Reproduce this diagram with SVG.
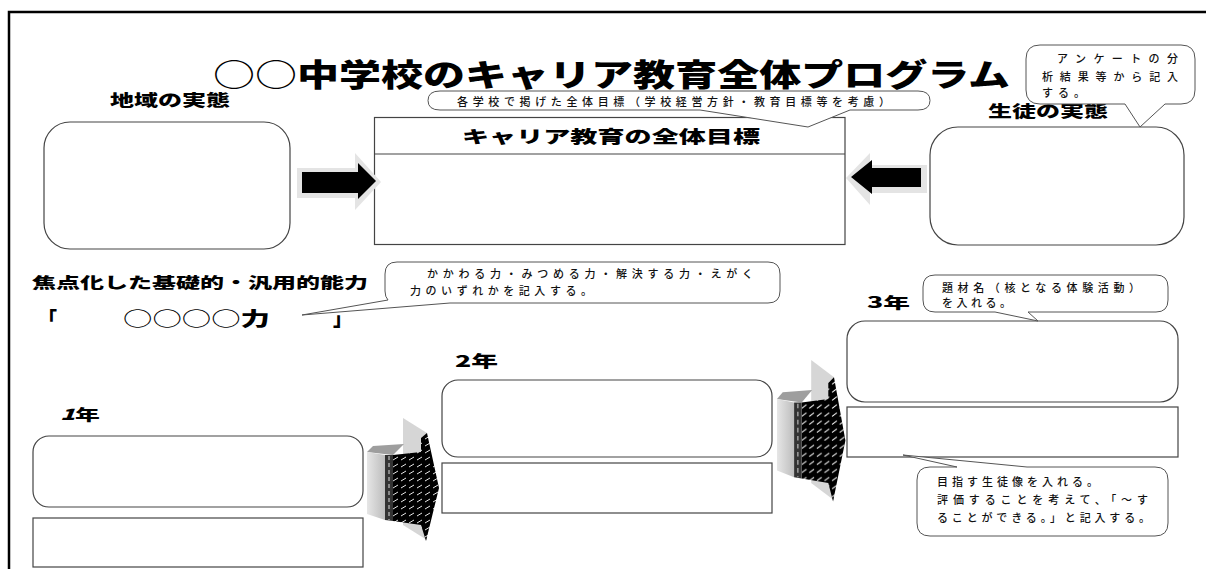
<svg xmlns="http://www.w3.org/2000/svg" width="1206" height="569" viewBox="0 0 1206 569">
<defs>
<style>
.h{font-family:"Noto Sans CJK JP","Noto Sans",sans-serif;font-weight:900;fill:#000}
.n{font-family:"Noto Sans CJK JP","Noto Sans",sans-serif;font-weight:500;fill:#111;font-size:11px}
.thin{font-weight:400}
.box{fill:#fff;stroke:#444;stroke-width:1.2}
.call{fill:#fff;stroke:#555;stroke-width:1}
</style>
<pattern id="dash" width="8" height="7" patternUnits="userSpaceOnUse">
<rect width="8" height="7" fill="#000"/>
<line x1="1" y1="5" x2="6" y2="2" stroke="#fff" stroke-width="0.9"/>
</pattern>
<linearGradient id="side" x1="0" y1="0" x2="1" y2="0">
<stop offset="0" stop-color="#e6e6e6"/><stop offset="1" stop-color="#bdbdbd"/>
</linearGradient>
<g id="arrow3d">
<polygon points="403,418 427,433 427,540 403,525" fill="#d6d6d6"/>
<polygon points="393,455 421,452 421,438 427,433 439,488 426,541 421,525 393,521" fill="url(#dash)"/>
<polygon points="367,452 373,446 404,444 393,455" fill="#9e9e9e"/>
<polygon points="367,452 385,455 385,520 367,514" fill="url(#side)"/>
<polygon points="385,455 393,455 393,521 385,520" fill="#333"/>
<line x1="389" y1="456" x2="389" y2="520" stroke="#ddd" stroke-width="1" stroke-dasharray="4,3"/>
</g>
</defs>

<path d="M9,569 V12 H1206" fill="none" stroke="#000" stroke-width="2.5"/>

<g id="title">
<text class="h" x="213" y="86" font-size="31" textLength="797" lengthAdjust="spacingAndGlyphs"><tspan class="thin">○○</tspan>中学校のキャリア教育全体プログラム</text>
</g>

<g id="chiiki">
<text class="h" x="110" y="106" font-size="16" textLength="120" lengthAdjust="spacingAndGlyphs">地域の実態</text>
<rect class="box" x="44" y="122" width="246" height="127" rx="26"/>
</g>

<g id="goal">
<rect class="box" x="374.5" y="117.5" width="470.5" height="127"/>
<line x1="374.5" y1="154" x2="845" y2="154" stroke="#444" stroke-width="1.2"/>
<text class="h" x="462" y="143" font-size="17" textLength="298" lengthAdjust="spacingAndGlyphs">キャリア教育の全体目標</text>
</g>

<g id="callout-goal">
<path class="call" d="M440,91 H918 Q930,91 930,100.5 Q930,110 918,110 H850 L808,127 L700,110 H440 Q428,110 428,100.5 Q428,91 440,91 Z"/>
<text class="n" x="457" y="106" textLength="433">各学校で掲げた全体目標（学校経営方針・教育目標等を考慮）</text>
</g>

<g id="seito">
<text class="h" x="988" y="117" font-size="16" textLength="120" lengthAdjust="spacingAndGlyphs">生徒の実態</text>
<rect class="box" x="930" y="127" width="254" height="118" rx="28"/>
</g>

<g id="callout-seito">
<path class="call" d="M1040,45 H1181 Q1195,45 1195,59 V90 Q1195,104 1181,104 H1165 L1140,127 L1125,104 H1040 Q1026,104 1026,90 V59 Q1026,45 1040,45 Z"/>
<text class="n" x="1057" y="63" font-size="12" textLength="121">アンケートの分</text>
<text class="n" x="1042" y="81" font-size="12" textLength="136">析結果等から記入</text>
<text class="n" x="1042" y="97" font-size="12" letter-spacing="5">する。</text>
</g>

<g id="connectors">
<polygon points="297,168 355,168 355,153 381,182 355,210 355,198 297,198" fill="#e4e4e4"/>
<polygon points="302,172 358,172 358,163 376,181 358,199 358,193 302,193" fill="#000"/>
<polygon points="927,165 870,165 870,153 846,178 870,205 870,193 927,193" fill="#e4e4e4"/>
<polygon points="921,168 872,168 872,160 851,177 872,194 872,187 921,187" fill="#000"/>
<use href="#arrow3d"/>
<use href="#arrow3d" transform="translate(777,360) scale(0.95,1.15) translate(-367,-418)"/>
</g>

<g id="nouryoku">
<text class="h" x="32" y="288" font-size="15" textLength="336" lengthAdjust="spacingAndGlyphs">焦点化した基礎的・汎用的能力</text>
<text class="h" x="38" y="326" font-size="19">「</text>
<text class="h" x="123" y="326" font-size="19" textLength="147" lengthAdjust="spacingAndGlyphs"><tspan class="thin">○○○○</tspan>力</text>
<text class="h" x="333" y="326" font-size="19">」</text>
</g>

<g id="callout-nouryoku">
<path class="call" d="M397,262 H768 Q780,262 780,274 V291 Q780,303 768,303 H450 L302,315 L388,300 Q385,297 385,291 V274 Q385,262 397,262 Z"/>
<text class="n" x="427" y="278" textLength="326">かかわる力・みつめる力・解決する力・えがく</text>
<text class="n" x="410" y="295" textLength="182">力のいずれかを記入する。</text>
</g>

<g id="year1">
<text class="h" x="60" y="420" font-size="15" textLength="40" lengthAdjust="spacingAndGlyphs"><tspan font-style="italic">1</tspan>年</text>
<rect class="box" x="33" y="436" width="330" height="71" rx="16"/>
<rect class="box" x="33" y="518" width="330" height="49"/>
</g>

<g id="year2">
<text class="h" x="455" y="367" font-size="16" textLength="43" lengthAdjust="spacingAndGlyphs">2年</text>
<rect class="box" x="442" y="380" width="330" height="77" rx="16"/>
<rect class="box" x="442" y="463" width="330" height="50"/>
</g>

<g id="year3">
<text class="h" x="867" y="308" font-size="15" textLength="43" lengthAdjust="spacingAndGlyphs">3年</text>
<rect class="box" x="847" y="321" width="331" height="81" rx="18"/>
<rect class="box" x="847" y="407" width="331" height="50"/>
</g>

<g id="callout-daizai">
<path class="call" d="M935,275 H1156 Q1168,275 1168,287 V300 Q1168,312 1156,312 H1028 L1038,321 L995,312 H935 Q923,312 923,300 V287 Q923,275 935,275 Z"/>
<text class="n" x="942" y="292" textLength="198">題材名（核となる体験活動）</text>
<text class="n" x="942" y="307" letter-spacing="3.5">を入れる。</text>
</g>

<g id="callout-mezasu">
<path class="call" d="M930,467 H957 L903,455 L1027,467 H1155 Q1168,467 1168,480 V523 Q1168,536 1155,536 H930 Q917,536 917,523 V480 Q917,467 930,467 Z"/>
<text class="n" x="937" y="486" letter-spacing="4">目指す生徒像を入れる。</text>
<text class="n" x="937" y="504" textLength="211">評価することを考えて、「～す</text>
<text class="n" x="937" y="522" textLength="213">ることができる。」と記入する。</text>
</g>
</svg>
